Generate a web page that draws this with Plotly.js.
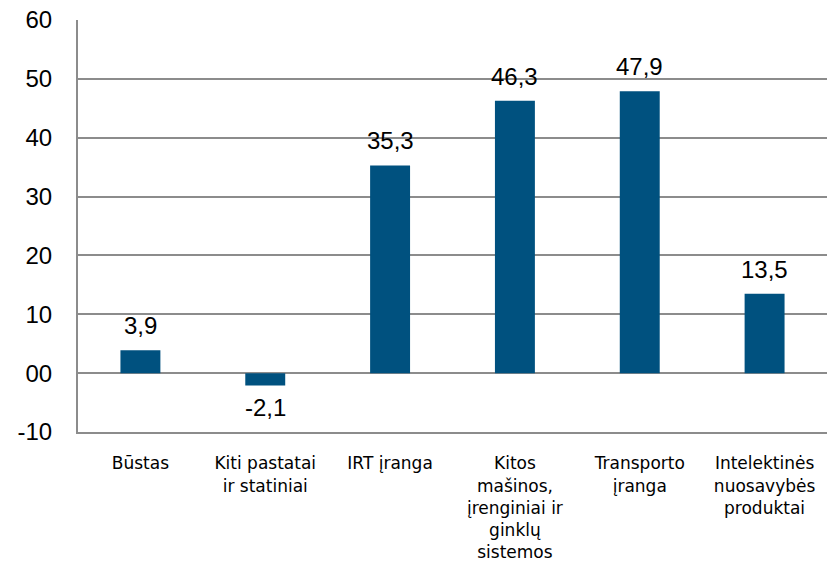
<!DOCTYPE html>
<html>
<head>
<meta charset="utf-8">
<script src="https://cdn.plot.ly/plotly-3.0.1.min.js"></script>
<style>html,body{margin:0;padding:0;background:#fff;}#chart{width:827px;height:568px;}</style>
</head>
<body>
<div id="chart"></div>
<script>
const categories = [
  "Būstas",
  "Kiti pastatai<br>ir statiniai",
  "IRT įranga",
  "Kitos<br>mašinos,<br>įrenginiai ir<br>ginklų<br>sistemos",
  "Transporto<br>įranga",
  "Intelektinės<br>nuosavybės<br>produktai"
];
const values = [3.9, -2.1, 35.3, 46.3, 47.9, 13.5];
const valueLabels = ["3,9", "-2,1", "35,3", "46,3", "47,9", "13,5"];
const yTickVals = [-10, 0, 10, 20, 30, 40, 50, 60];
const yTickText = ["-10", "00", "10", "20", "30", "40", "50", "60"];

const barColor = "#00517f";
const numFont = {family: "Liberation Sans, Arial, sans-serif", size: 24, color: "#000"};

const annotations = values.map((v, i) => ({
  x: categories[i], y: v, xref: "x", yref: "y",
  text: valueLabels[i], showarrow: false,
  yanchor: v >= 0 ? "bottom" : "top",
  yshift: v >= 0 ? 9 : -6,
  font: numFont
}));

Plotly.newPlot("chart", [{
  type: "bar",
  x: categories,
  y: values,
  width: 0.32,
  marker: {color: barColor},
  hoverinfo: "skip"
}], {
  width: 827, height: 568,
  margin: {l: 78, r: 0, t: 20, b: 136, pad: 0},
  paper_bgcolor: "#fff", plot_bgcolor: "#fff",
  showlegend: false,
  xaxis: {
    type: "category",
    showgrid: false, zeroline: false,
    showline: true, linecolor: "#8c8c8c", linewidth: 2,
    ticks: "", ticklabelstandoff: 15,
    tickfont: {family: "DejaVu Sans, Verdana, sans-serif", size: 17, color: "#000"},
    tickangle: 0, automargin: false
  },
  yaxis: {
    range: [-10, 60],
    tickvals: yTickVals, ticktext: yTickText,
    showgrid: true, gridcolor: "#8c8c8c", gridwidth: 2,
    zeroline: false,
    showline: true, linecolor: "#8c8c8c", linewidth: 2,
    ticks: "", ticklabelstandoff: 19,
    tickfont: numFont, automargin: false
  },
  annotations: annotations
}, {displayModeBar: false, staticPlot: true});
</script>
</body>
</html>
